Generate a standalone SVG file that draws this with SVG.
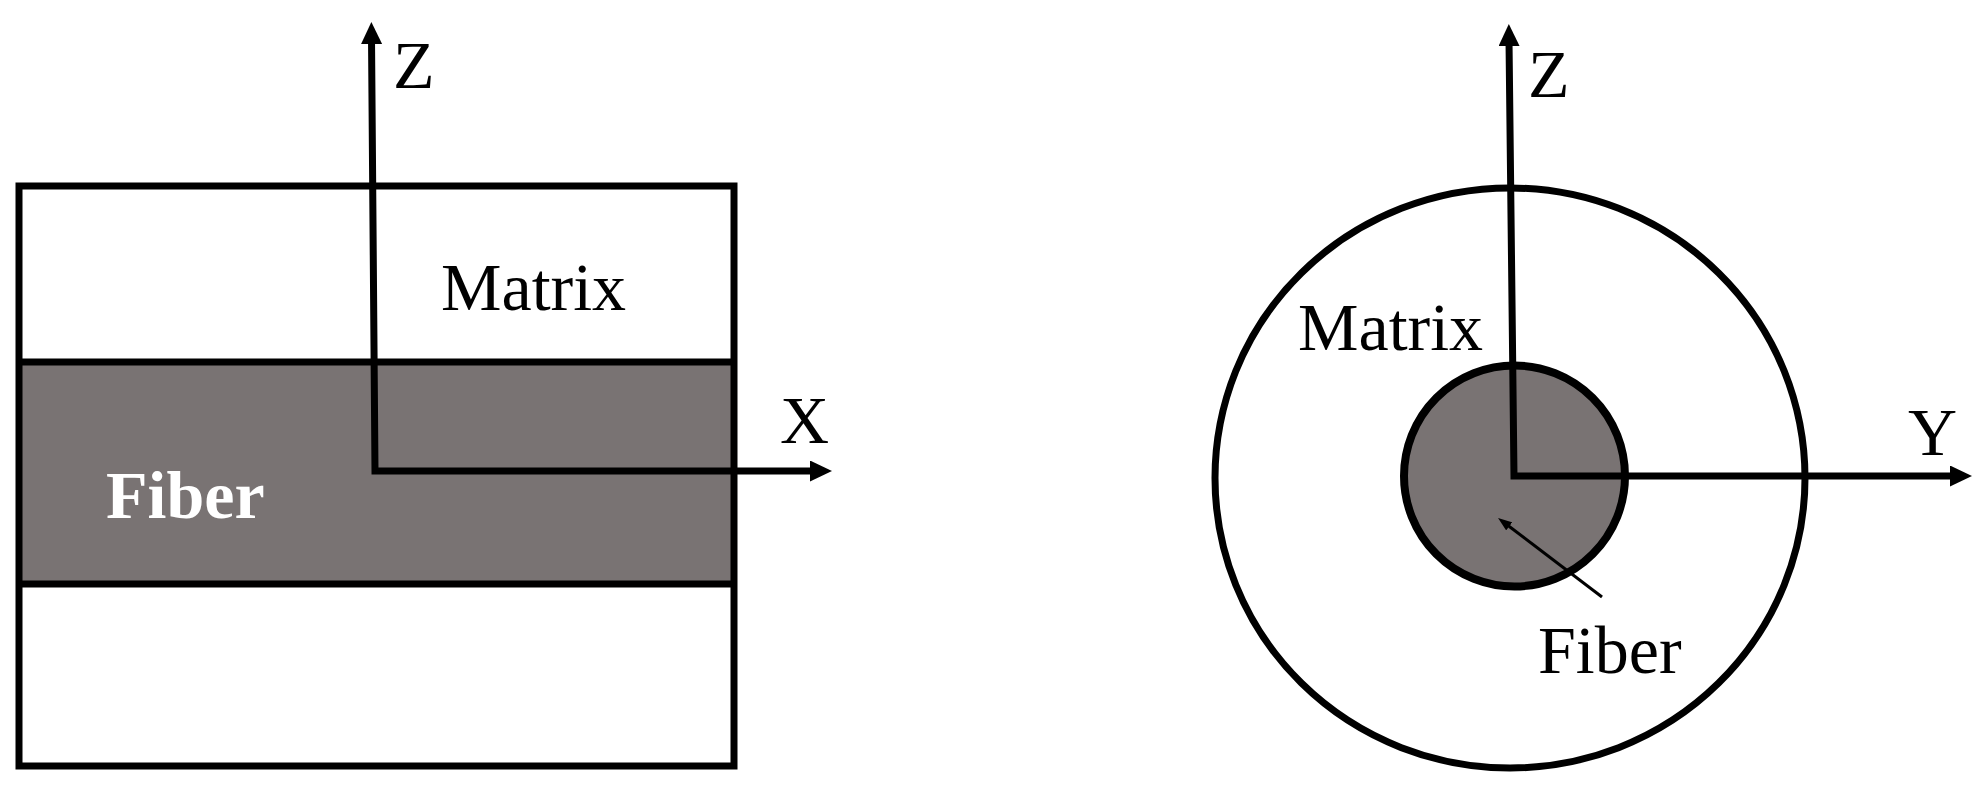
<svg xmlns="http://www.w3.org/2000/svg" width="1986" height="791" viewBox="0 0 1986 791">
<style>
.edge{fill:none;stroke:#000;stroke-width:7}
.axis{fill:none;stroke:#000;stroke-width:7;stroke-linejoin:miter}
.lbl{font-family:"Liberation Serif","Times New Roman",serif;font-size:68px;fill:#000}
.fib{fill:#797373}
</style>
<defs>
<marker id="ah" markerUnits="userSpaceOnUse" markerWidth="22" markerHeight="21" viewBox="0 0 22 21" refX="6" refY="10.5" orient="auto-start-reverse">
<path d="M0,0 L22,10.5 L0,21 z" fill="#000"/>
</marker>
<marker id="ahs" markerUnits="userSpaceOnUse" markerWidth="14" markerHeight="10" viewBox="0 0 14 10" refX="4" refY="5" orient="auto">
<path d="M0,0 L14,5 L0,10 z" fill="#000"/>
</marker>
</defs>
<rect width="1986" height="791" fill="#fff"/>
<g id="left-section">
<rect x="19" y="186" width="715" height="580" fill="#fff"/>
<rect class="fib" x="19" y="362" width="715" height="222"/>
<rect class="edge" x="19" y="186" width="715" height="580"/>
<line class="edge" x1="19" y1="362" x2="734" y2="362"/>
<line class="edge" x1="19" y1="584" x2="734" y2="584"/>
</g>
<g id="right-section">
<ellipse class="edge" cx="1510" cy="478" rx="295" ry="290" fill="#fff"/>
<circle class="fib" cx="1514.5" cy="476" r="110.5" stroke="#000" stroke-width="8"/>
</g>
<g id="connectors">
<path class="axis" d="M816,471 L375,471 L371.5,38" marker-start="url(#ah)" marker-end="url(#ah)"/>
<path class="axis" d="M1956,476 L1514,476 L1509,40" marker-start="url(#ah)" marker-end="url(#ah)"/>
<line x1="1602" y1="597" x2="1506" y2="524" stroke="#000" stroke-width="3" marker-end="url(#ahs)"/>
</g>
<g id="labels">
<text class="lbl" x="393" y="88">Z</text>
<text class="lbl" x="441" y="310">Matrix</text>
<text class="lbl" x="780" y="443">X</text>
<text class="lbl" x="106" y="518" font-weight="bold" fill="#fff" style="fill:#fff">Fiber</text>
<text class="lbl" x="1528" y="97">Z</text>
<text class="lbl" x="1298" y="350">Matrix</text>
<text class="lbl" x="1908" y="455">Y</text>
<text class="lbl" x="1538" y="673">Fiber</text>
</g>
</svg>
